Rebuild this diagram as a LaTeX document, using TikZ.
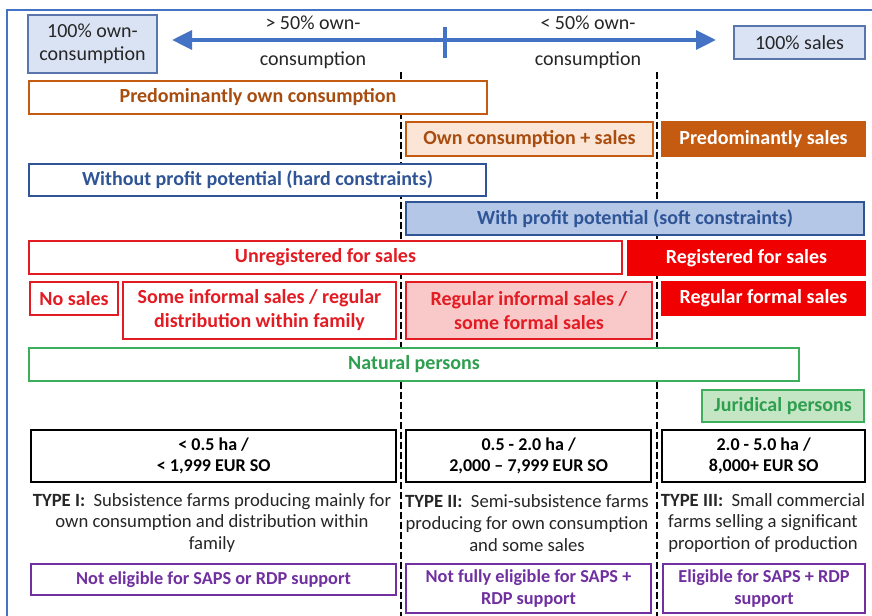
\documentclass[tikz,border=0pt]{standalone}
\usepackage{fontspec}
\setmainfont{Carlito}
\usetikzlibrary{arrows.meta}

\definecolor{frameblue}{HTML}{4472C4}
\definecolor{boxblue}{HTML}{DAE3F3}
\definecolor{boxblueline}{HTML}{5A74AC}
\definecolor{navy}{HTML}{2F5597}
\definecolor{softblue}{HTML}{B4C7E7}
\definecolor{burnt}{HTML}{C55A11}
\definecolor{peach}{HTML}{FBE5D6}
\definecolor{brightred}{HTML}{F00000}
\definecolor{redtext}{HTML}{E31B23}
\definecolor{pink}{HTML}{F9C9C9}
\definecolor{grn}{HTML}{3DAE5B}
\definecolor{grntext}{HTML}{2E9E4F}
\definecolor{lightgrn}{HTML}{C5E6C5}
\definecolor{purp}{HTML}{7030A0}
\definecolor{ink}{HTML}{262626}

\tikzset{
  cell/.style 2 args={anchor=north west,
    minimum width=#1*0.75pt, minimum height=#2*0.75pt},
  bx/.style={inner sep=0pt, align=center, line width=1.5pt,
    font=\fontsize{15}{18}\selectfont\bfseries},
  scalebox/.style={bx, draw=boxblueline, fill=boxblue, text=ink,
    font=\fontsize{15}{17}\selectfont},
  orangeopen/.style={bx, draw=burnt, fill=white, text=burnt!85!black},
  orangesoft/.style={bx, draw=burnt, fill=peach, text=burnt!85!black},
  orangefull/.style={bx, draw=burnt, fill=burnt, text=white},
  blueopen/.style={bx, draw=navy, fill=white, text=navy},
  bluesoft/.style={bx, draw=navy, fill=softblue, text=navy},
  redopen/.style={bx, draw=redtext, fill=white, text=redtext},
  redsoft/.style={bx, draw=redtext, fill=pink, text=redtext},
  redfull/.style={bx, draw=brightred, fill=brightred, text=white},
  greenopen/.style={bx, draw=grn, fill=white, text=grntext},
  greensoft/.style={bx, draw=grn, fill=lightgrn, text=grntext},
  sizebox/.style={bx, draw=black, fill=white, text=black, line width=1.8pt,
    font=\fontsize{13.5}{16}\selectfont\bfseries},
  purplebox/.style={bx, draw=purp, fill=white, text=purp,
    font=\fontsize{13.7}{16.5}\selectfont\bfseries},
  typetext/.style={inner sep=0pt, align=center, text=ink,
    font=\fontsize{14}{16.2}\selectfont},
  scaletext/.style={inner sep=0pt, align=center, text=ink,
    font=\fontsize{15}{17}\selectfont},
  divider/.style={draw=black, line width=1.8pt, dash pattern=on 5pt off 2.5pt},
}

\begin{document}
\begin{tikzpicture}[x=0.75pt, y=-0.75pt]
\useasboundingbox (0,0) rectangle (872,616);
\fill[white] (0,0) rectangle (872,616);

% outer frame (top and left edges)
\coordinate (fA) at (7,616);
\coordinate (fB) at (7,10);
\coordinate (fC) at (872,10);
\draw[frameblue, line width=1.6pt] (fA) -- (fB) -- (fC);

% column dividers
\coordinate (d1t) at (401,72);
\coordinate (d1b) at (401,616);
\coordinate (d2t) at (657,72);
\coordinate (d2b) at (657,616);
\draw[divider] (d1t) -- (d1b);
\draw[divider] (d2t) -- (d2b);

% scale of own consumption versus sales
\node[scalebox, cell={129}{58}] (own100) at (27,14) {100\% own-\\consumption};
\node[scalebox, cell={131}{33}] (sales100) at (733,25) {100\% sales};
\coordinate (aL) at (172,40);
\coordinate (aR) at (716,40);
\draw[frameblue, line width=3pt,
  {Triangle[length=15pt,width=14pt]}-{Triangle[length=15pt,width=14pt]}] (aL) -- (aR);
\coordinate (tkT) at (445,27);
\coordinate (tkB) at (445,58);
\draw[frameblue, line width=3pt] (tkT) -- (tkB);
\node[scaletext] (gt1) at (313,23) {> 50\% own-};
\node[scaletext] (gt2) at (313,60) {consumption};
\node[scaletext] (lt1) at (588,23) {< 50\% own-};
\node[scaletext] (lt2) at (588,60) {consumption};

% consumption / sales orientation
\node[orangeopen, cell={458}{33}] (poc) at (28,80) {Predominantly own consumption};
\node[orangesoft, cell={247}{34}] (ocs) at (405,121) {Own consumption + sales};
\node[orangefull, cell={203}{34}] (ps) at (661,121) {Predominantly sales};

% profit potential
\node[blueopen, cell={457}{32}] (wop) at (28,163) {Without profit potential (hard constraints)};
\node[bluesoft, cell={458}{33}] (wp) at (405,201) {With profit potential (soft constraints)};

% registration and sales channels
\node[redopen, cell={593}{33}] (unreg) at (28,240) {Unregistered for sales};
\node[redfull, cell={237}{34}] (reg) at (627,240) {Registered for sales};
\node[redopen, cell={88}{33}] (nos) at (29,281) {No sales};
\node[redopen, cell={273}{57}] (sis) at (122,281) {Some informal sales / regular\\distribution within family};
\node[redsoft, cell={246}{57}] (ris) at (405,281) {Regular informal sales /\\some formal sales};
\node[redfull, cell={203}{33}] (rfs) at (661,281) {Regular formal sales};

% legal form
\node[greenopen, cell={770}{33}] (nat) at (28,347) {Natural persons};
\node[greensoft, cell={162}{32}] (jur) at (701,389) {Juridical persons};

% size classes
\node[sizebox, cell={365}{52}] (s1) at (30,429) {< 0.5 ha /\\< 1,999 EUR SO};
\node[sizebox, cell={245}{52}] (s2) at (405,429) {0.5 - 2.0 ha /\\2,000 -- 7,999 EUR SO};
\node[sizebox, cell={203}{52}] (s3) at (661,429) {2.0 - 5.0 ha /\\8,000+ EUR SO};

% farm types
\node[typetext] (t1) at (212,523) {\textbf{TYPE I:}\ \ Subsistence farms producing mainly for\\own consumption and distribution within\\family};
\node[typetext] (t2) at (527,523) {\textbf{TYPE II:}\ \ Semi-subsistence farms\\producing for own consumption\\and some sales};
\node[typetext] (t3) at (763,523) {\textbf{TYPE III:}\ \ Small commercial\\farms selling a significant\\proportion of production};

% eligibility
\node[purplebox, cell={365}{31}] (e1) at (30,563) {Not eligible for SAPS or RDP support};
\node[purplebox, cell={245}{49}] (e2) at (405,563) {Not fully eligible for SAPS +\\RDP support};
\node[purplebox, cell={202}{49}] (e3) at (662,563) {Eligible for SAPS + RDP\\support};
\end{tikzpicture}
\end{document}
